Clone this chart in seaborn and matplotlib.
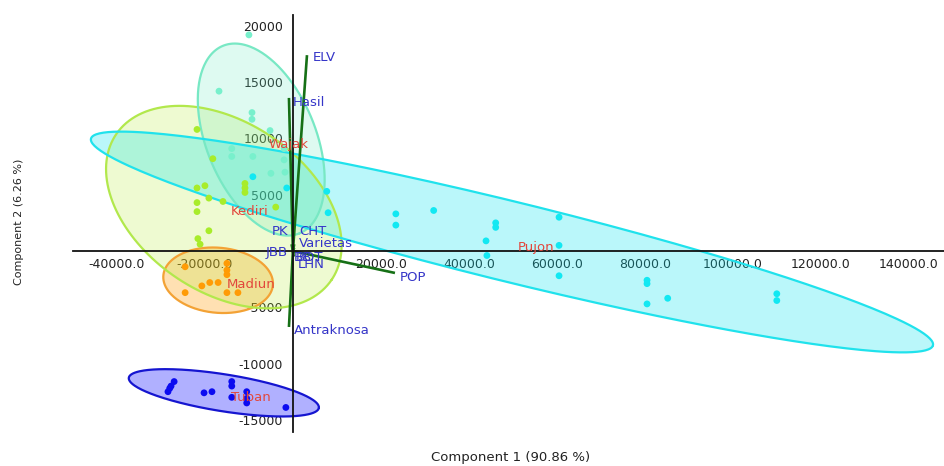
import numpy as np
import pandas as pd
import matplotlib
matplotlib.use("Agg")
import matplotlib.pyplot as plt
import seaborn as sns

# ---- PCA scores per location -------------------------------------------
tuban_pc1 = [-27000, -27700, -28000, -28400, -20200, -18400, -13900, -13900,
             -13900, -10500, -10500, -10500, -1600]
tuban_pc2 = [-11600, -12000, -12200, -12500, -12600, -12500, -11600, -12000,
             -13000, -12500, -13100, -13500, -13900]

madiun_pc1 = [-24500, -15000, -15000, -15000, -20700, -18900, -17000, -24500,
              -15000, -12500]
madiun_pc2 = [-1400, -1100, -1700, -2100, -3100, -2800, -2800, -3700,
              -3700, -3700]

kediri_pc1 = [-21800, -18200, -21800, -20000, -19100, -21800, -21800, -15900,
              -19100, -21600, -21100, -10900, -10900, -10900, -3900]
kediri_pc2 = [10800, 8200, 5600, 5800, 4700, 4300, 3500, 4400,
              1800, 1100, 600, 6000, 5600, 5200, 3900]

wajak_pc1 = [-10000, -16800, -9300, -9300, -5200, -13900, -13900, -9100,
             -5000, -2000, -2000, -1800]
wajak_pc2 = [19200, 14200, 12300, 11700, 10700, 9100, 8400, 8400,
             6900, 9100, 8100, 7000]

pujon_pc1 = [-9100, -1400, 7700, 8000, 23400, 23400, 32000, 46100, 46100,
             43900, 60500, 60500, 44100, 60500, 80500, 80500, 85200, 80500,
             110000, 110000]
pujon_pc2 = [6600, 5600, 5300, 3400, 3300, 2300, 3600, 2500, 2100,
             900, 3000, 500, -400, -2200, -2600, -2900, -4200, -4700,
             -3800, -4400]

groups = ["Tuban", "Madiun", "Kediri", "Wajak", "Pujon"]
point_colors = ["#0b0bf0", "#ff9b05", "#a8ec2a", "#78f0cc", "#12e8f2"]
edge_colors = ["#1515d0", "#f3a235", "#b2e84c", "#78e8c4", "#20e2ec"]
fill_colors = ["#0000ff", "#ff9900", "#b4ea30", "#6aeac0", "#00e4f0"]
fill_alpha = [0.31, 0.30, 0.22, 0.22, 0.27]

# 95% ellipses: centre and two conjugate semi-diameters (PC1, PC2 units)
ell_cx = [-15700, -17000, -15700, -7200, 49800]
ell_cy = [-12600, -2600, 3900, 9900, 800]
ell_ax = [21600, 12450, 24500, 8700, 95700]
ell_ay = [-1340, -430, -6460, -8330, -9180]
ell_bx = [-660, -640, -10800, -11500, -2170]
ell_by = [-1620, -2880, -6260, -1840, -3450]

# group name labels
grp_lab_x = [-9500, -9500, -9800, -900, 55200]
grp_lab_y = [-13000, -3000, 3500, 9500, 300]

# ---- variable loadings (biplot vectors) ---------------------------------
load_names = ["ELV", "Hasil", "Antraknosa", "POP", "PK", "CHT", "Varietas",
              "JBB", "BB", "BOT", "LHN"]
load_x = [3200, -900, -900, 23200, -300, 300, 300, -300, 100, 150, 200]
load_y = [17400, 13600, -6750, -1950, 600, 600, 300, 0, -200, -250, -500]
load_lab_x = [4550, 0, 230, 24300, -1140, 1360, 1360, -1140, 230, 680, 1140]
load_lab_y = [17150, 13150, -7020, -2310, 1690, 1690, 710, -90, -620, -620,
              -1240]
load_lab_ha = ["left", "left", "left", "left", "right", "left", "left",
               "right", "left", "left", "left"]

scores = pd.DataFrame({
    "PC1": tuban_pc1 + madiun_pc1 + kediri_pc1 + wajak_pc1 + pujon_pc1,
    "PC2": tuban_pc2 + madiun_pc2 + kediri_pc2 + wajak_pc2 + pujon_pc2,
    "Lokasi": (["Tuban"] * len(tuban_pc1) + ["Madiun"] * len(madiun_pc1)
               + ["Kediri"] * len(kediri_pc1) + ["Wajak"] * len(wajak_pc1)
               + ["Pujon"] * len(pujon_pc1)),
})

sns.set_style("white")
plt.rcParams["font.family"] = ["DejaVu Sans"]

fig = plt.figure(figsize=(9.45, 4.66), dpi=100)
ax = fig.add_axes([0.0772, 0.0725, 0.9217, 0.8961])
ax.set_facecolor("none")

# confidence ellipses
t = np.linspace(0, 2 * np.pi, 300)
for i, g in enumerate(groups):
    ex = ell_cx[i] + np.cos(t) * ell_ax[i] + np.sin(t) * ell_bx[i]
    ey = ell_cy[i] + np.cos(t) * ell_ay[i] + np.sin(t) * ell_by[i]
    ax.fill(ex, ey, color=fill_colors[i], alpha=fill_alpha[i], lw=0, zorder=1)
    ax.plot(ex, ey, color=edge_colors[i], lw=1.6, zorder=2)

sns.scatterplot(data=scores, x="PC1", y="PC2", hue="Lokasi",
                hue_order=groups, palette=point_colors, s=24, linewidth=0,
                legend=False, ax=ax, zorder=3)

# loading vectors
for i, name in enumerate(load_names):
    ax.plot([0, load_x[i]], [0, load_y[i]], color="#167016", lw=1.9,
            solid_capstyle="butt", zorder=4)
    ax.text(load_lab_x[i], load_lab_y[i], name, color="#3535c8",
            fontsize=9.5, ha=load_lab_ha[i], va="center", zorder=6)

for i, g in enumerate(groups):
    ax.text(grp_lab_x[i], grp_lab_y[i], g, color="#e2473c", fontsize=9.5,
            ha="center", va="center", zorder=6)

# axes crossing at the origin
ax.set_xlim(-50000, 148000)
ax.set_ylim(-16100, 21000)
for side in ["top", "right"]:
    ax.spines[side].set_visible(False)
for side in ["left", "bottom"]:
    ax.spines[side].set_position(("data", 0))
    ax.spines[side].set_color("#111111")
    ax.spines[side].set_linewidth(1.3)
    ax.spines[side].set_zorder(5)

xt = [-40000, -20000, 20000, 40000, 60000, 80000, 100000, 120000, 140000]
yt = [-15000, -10000, -5000, 5000, 10000, 15000, 20000]
ax.set_xticks(xt)
ax.set_xticklabels([f"{v:.1f}" for v in xt])
ax.set_yticks(yt)
ax.set_yticklabels([f"{v:d}" for v in yt])
ax.tick_params(axis="x", direction="in", length=4, width=1, pad=5,
               labelsize=9, colors="#222222")
ax.tick_params(axis="y", direction="out", length=5, width=1, pad=2,
               labelsize=9, colors="#222222")
ax.set_xlabel("")
ax.set_ylabel("")

fig.text(511 / 945, 1 - 457 / 466, "Component 1 (90.86 %)", fontsize=9.5,
         ha="center", va="center", color="#222222")
fig.text(19 / 945, 1 - 222 / 466, "Component 2 (6.26 %)", fontsize=8,
         ha="center", va="center", rotation=90, color="#222222")

fig.savefig("out.png", dpi=100)
